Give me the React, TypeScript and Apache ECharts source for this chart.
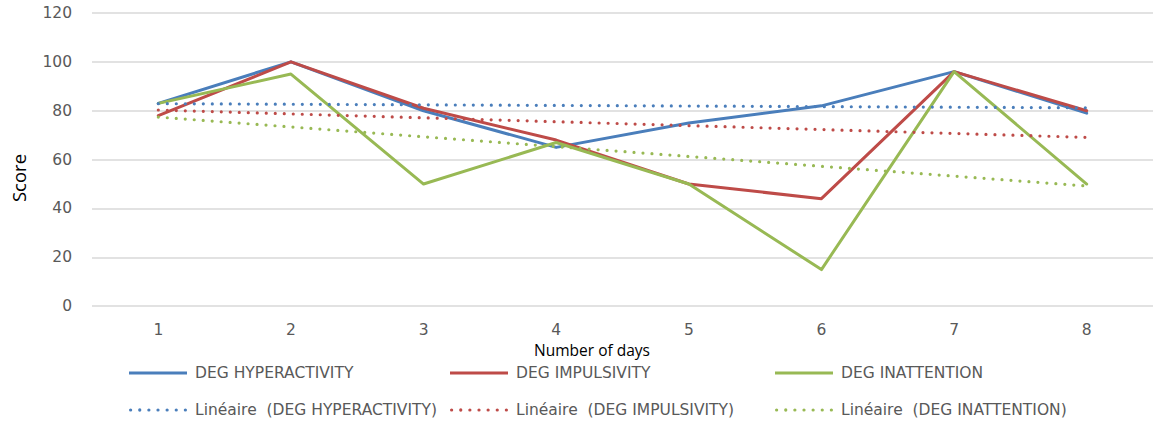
import React, { useEffect, useRef } from "react";
import * as echarts from "echarts";

const days = ["1", "2", "3", "4", "5", "6", "7", "8"];
const hyperactivity = [83, 100, 80, 65, 75, 82, 96, 79];
const impulsivity = [78, 100, 81, 68, 50, 44, 96, 80];
const inattention = [83, 95, 50, 67, 50, 15, 96, 50];
// trendline endpoints (day 1, day 8)
const trendHyper = [82.9, 81.2];
const trendImpul = [80.3, 69.1];
const trendInatt = [77.4, 49.2];
const yTicks = { min: 0, max: 120, interval: 20 };

const BLUE = "#4A7EBB";
const RED = "#BE4B48";
const GREEN = "#98B954";
const GREY_FONT = "DejaVu Sans";
const BLACK_FONT = "Open Sans";

const names = [
  "DEG HYPERACTIVITY",
  "DEG IMPULSIVITY",
  "DEG INATTENTION",
  "Linéaire  (DEG HYPERACTIVITY)",
  "Linéaire  (DEG IMPULSIVITY)",
  "Linéaire  (DEG INATTENTION)",
];

function trendData(ends: number[]) {
  return days.map((_, i) => (i === 0 ? ends[0] : i === days.length - 1 ? ends[1] : null));
}

function dotsIcon() {
  const r = 1.6;
  let d = "path://";
  for (let i = 0; i < 7; i++) {
    const cx = r + i * 9;
    d += `M${cx - r},${r}a${r},${r} 0 1,0 ${2 * r},0a${r},${r} 0 1,0 ${-2 * r},0z`;
  }
  return d;
}
const SOLID_ICON = "path://M0,0h58v3h-58z";
const DOTS_ICON = dotsIcon();

export default function App() {
  const ref = useRef<HTMLDivElement>(null);
  useEffect(() => {
    const chart = echarts.init(ref.current!, null, { renderer: "svg" });
    const solid = (name: string, data: number[], color: string, z: number) => ({
      name,
      type: "line",
      data,
      showSymbol: false,
      symbol: "none",
      z,
      lineStyle: { color, width: 3, cap: "round", join: "round" },
      itemStyle: { color },
    });
    const dotted = (name: string, data: any[], color: string, z: number) => ({
      name,
      type: "line",
      data,
      connectNulls: true,
      showSymbol: false,
      symbol: "none",
      z,
      lineStyle: { color, width: 3.2, type: [0, 9], cap: "round" },
      itemStyle: { color },
    });
    const cols = [124, 445, 770];
    const rows = [360, 397];
    const legends = names.map((n, i) => ({
      data: [{ name: n, icon: i < 3 ? SOLID_ICON : DOTS_ICON }],
      left: cols[i % 3],
      top: rows[Math.floor(i / 3)],
      itemWidth: 58,
      itemHeight: 16,
      symbolKeepAspect: true,
      selectedMode: false,
      textStyle: {
        fontFamily: GREY_FONT,
        fontSize: 15.5,
        lineHeight: 16,
        color: "#595959",
        padding: [0, 0, 0, 3],
      },
    }));
    chart.setOption({
      animation: false,
      grid: { left: 92, right: 0, top: 13, bottom: 118.8, containLabel: false },
      xAxis: {
        type: "category",
        data: days,
        boundaryGap: true,
        axisLine: { show: false },
        axisTick: { show: false },
        splitLine: { show: false },
        axisLabel: {
          color: "#595959",
          fontFamily: GREY_FONT,
          fontSize: 15.5,
          lineHeight: 16,
          margin: 16,
        },
      },
      yAxis: {
        type: "value",
        min: yTicks.min,
        max: yTicks.max,
        interval: yTicks.interval,
        axisLine: { show: false },
        axisTick: { show: false },
        splitLine: { lineStyle: { color: "#D9D9D9", width: 1.5 } },
        axisLabel: {
          color: "#595959",
          fontFamily: GREY_FONT,
          fontSize: 15.5,
          margin: 20,
          padding: [7, 0, 0, 0],
        },
      },
      legend: legends,
      graphic: [
        {
          type: "text",
          x: 592,
          y: 349.5,
          style: {
            text: "Number of days",
            fontFamily: BLACK_FONT,
            fontSize: 15.5,
            lineHeight: 16,
            fill: "#000",
            align: "center",
            verticalAlign: "middle",
          },
        },
        {
          type: "text",
          x: 18.5,
          y: 178,
          rotation: Math.PI / 2,
          style: {
            text: "Score",
            fontFamily: BLACK_FONT,
            fontSize: 18.5,
            fill: "#000",
            align: "center",
            verticalAlign: "middle",
          },
        },
      ],
      series: [
        solid(names[0], hyperactivity, BLUE, 2),
        solid(names[1], impulsivity, RED, 3),
        solid(names[2], inattention, GREEN, 4),
        dotted(names[3], trendData(trendHyper), BLUE, 5),
        dotted(names[4], trendData(trendImpul), RED, 5),
        dotted(names[5], trendData(trendInatt), GREEN, 5),
      ],
    });
    return () => chart.dispose();
  }, []);
  return (
    <div
      ref={ref}
      style={{ position: "fixed", left: 0, top: 0, width: 1153, height: 425, background: "#fff" }}
    />
  );
}
